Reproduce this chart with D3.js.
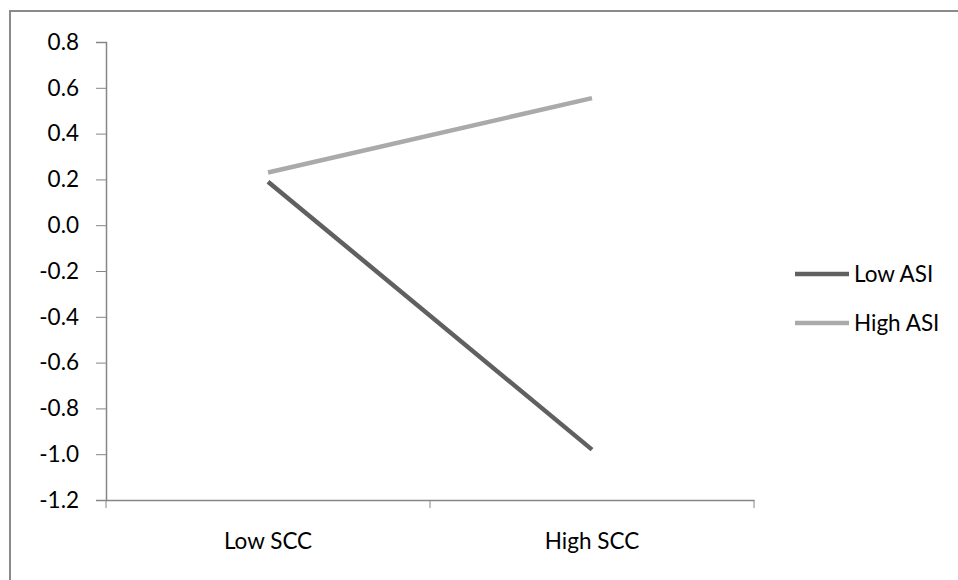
<!DOCTYPE html>
<html>
<head>
<meta charset="utf-8">
<script src="https://cdn.jsdelivr.net/npm/d3@7"></script>
<style>
  body { margin: 0; background: #fff; }
  #chart-area { width: 958px; height: 580px; }
</style>
</head>
<body>
<div id="chart-area"></div>
<script>
// Data
var categories = ["Low SCC", "High SCC"];
var seriesNames = ["Low ASI", "High ASI"];
var lowASI = [0.19, -0.98];
var highASI = [0.23, 0.555];
var yTicks = [0.8, 0.6, 0.4, 0.2, 0.0, -0.2, -0.4, -0.6, -0.8, -1.0, -1.2];

// Colors
var seriesColors = ["#606060", "#aaaaaa"];

// Canvas
var canvasWidth = 958;
var canvasHeight = 580;
var fontFam = "Lato, 'Open Sans', sans-serif";

var canvas = d3.select("#chart-area")
	.append("svg")
	.attr("width", canvasWidth)
	.attr("height", canvasHeight);

// Outer frame (top + left edge only visible)
canvas.append("path")
	.attr("d", "M10,580 L10,11 L958,11")
	.attr("fill", "none")
	.attr("stroke", "#8a8a8a")
	.attr("stroke-width", 2);

// Plot area
var plot = {left: 106, right: 754, top: 42, bottom: 500};

// Scales
var x = d3.scaleBand()
	.domain(categories)
	.range([plot.left, plot.right]);

var y = d3.scaleLinear()
	.domain([-1.2, 0.8])
	.range([plot.bottom, plot.top]);

// Y axis
var yAxis = canvas.append("g")
	.attr("transform", "translate(" + plot.left + ",0)")
	.call(d3.axisLeft(y).tickValues(yTicks).tickSize(10).tickPadding(17)
		.tickFormat(function(d){ return d3.format(".1f")(d).replace("−", "-"); }));

// X axis
var xAxis = canvas.append("g")
	.attr("transform", "translate(0," + plot.bottom + ")")
	.call(d3.axisBottom(x).tickSize(0).tickPadding(33));

// tick marks on x axis at band edges
xAxis.selectAll(".edge")
	.data([plot.left, (plot.left + plot.right) / 2, plot.right])
	.enter().append("line")
	.attr("class", "edge")
	.attr("x1", function(d){ return d; })
	.attr("x2", function(d){ return d; })
	.attr("y1", 0)
	.attr("y2", 8)
	.attr("stroke", "#868686");

canvas.selectAll(".domain").attr("stroke", "#868686").attr("stroke-width", 1.5);
canvas.selectAll(".tick line").attr("stroke", "#868686");
canvas.selectAll(".tick text")
	.attr("font-family", fontFam)
	.attr("font-size", "22.5px")
	.attr("fill", "#000");

// Lines
var line = d3.line()
	.x(function(d, i){ return x(categories[i]) + x.bandwidth() / 2; })
	.y(function(d){ return y(d); });

var allSeries = [lowASI, highASI];
canvas.selectAll(".series")
	.data(allSeries)
	.enter().append("path")
	.attr("class", "series")
	.attr("d", line)
	.attr("fill", "none")
	.attr("stroke", function(d, i){ return seriesColors[i]; })
	.attr("stroke-width", 4.5);

// Legend
var legend = canvas.append("g")
	.attr("transform", "translate(795,274)");

seriesNames.forEach(function(name, i){
	var row = legend.append("g")
		.attr("transform", "translate(0," + (i * 49) + ")");
	row.append("line")
		.attr("x1", 0).attr("x2", 54)
		.attr("y1", 0).attr("y2", 0)
		.attr("stroke", seriesColors[i])
		.attr("stroke-width", 4.5);
	row.append("text")
		.attr("x", 59)
		.attr("y", 0)
		.attr("dy", "0.35em")
		.attr("font-family", fontFam)
		.attr("font-size", "22.5px")
		.attr("fill", "#000")
		.text(name);
});
</script>
</body>
</html>
